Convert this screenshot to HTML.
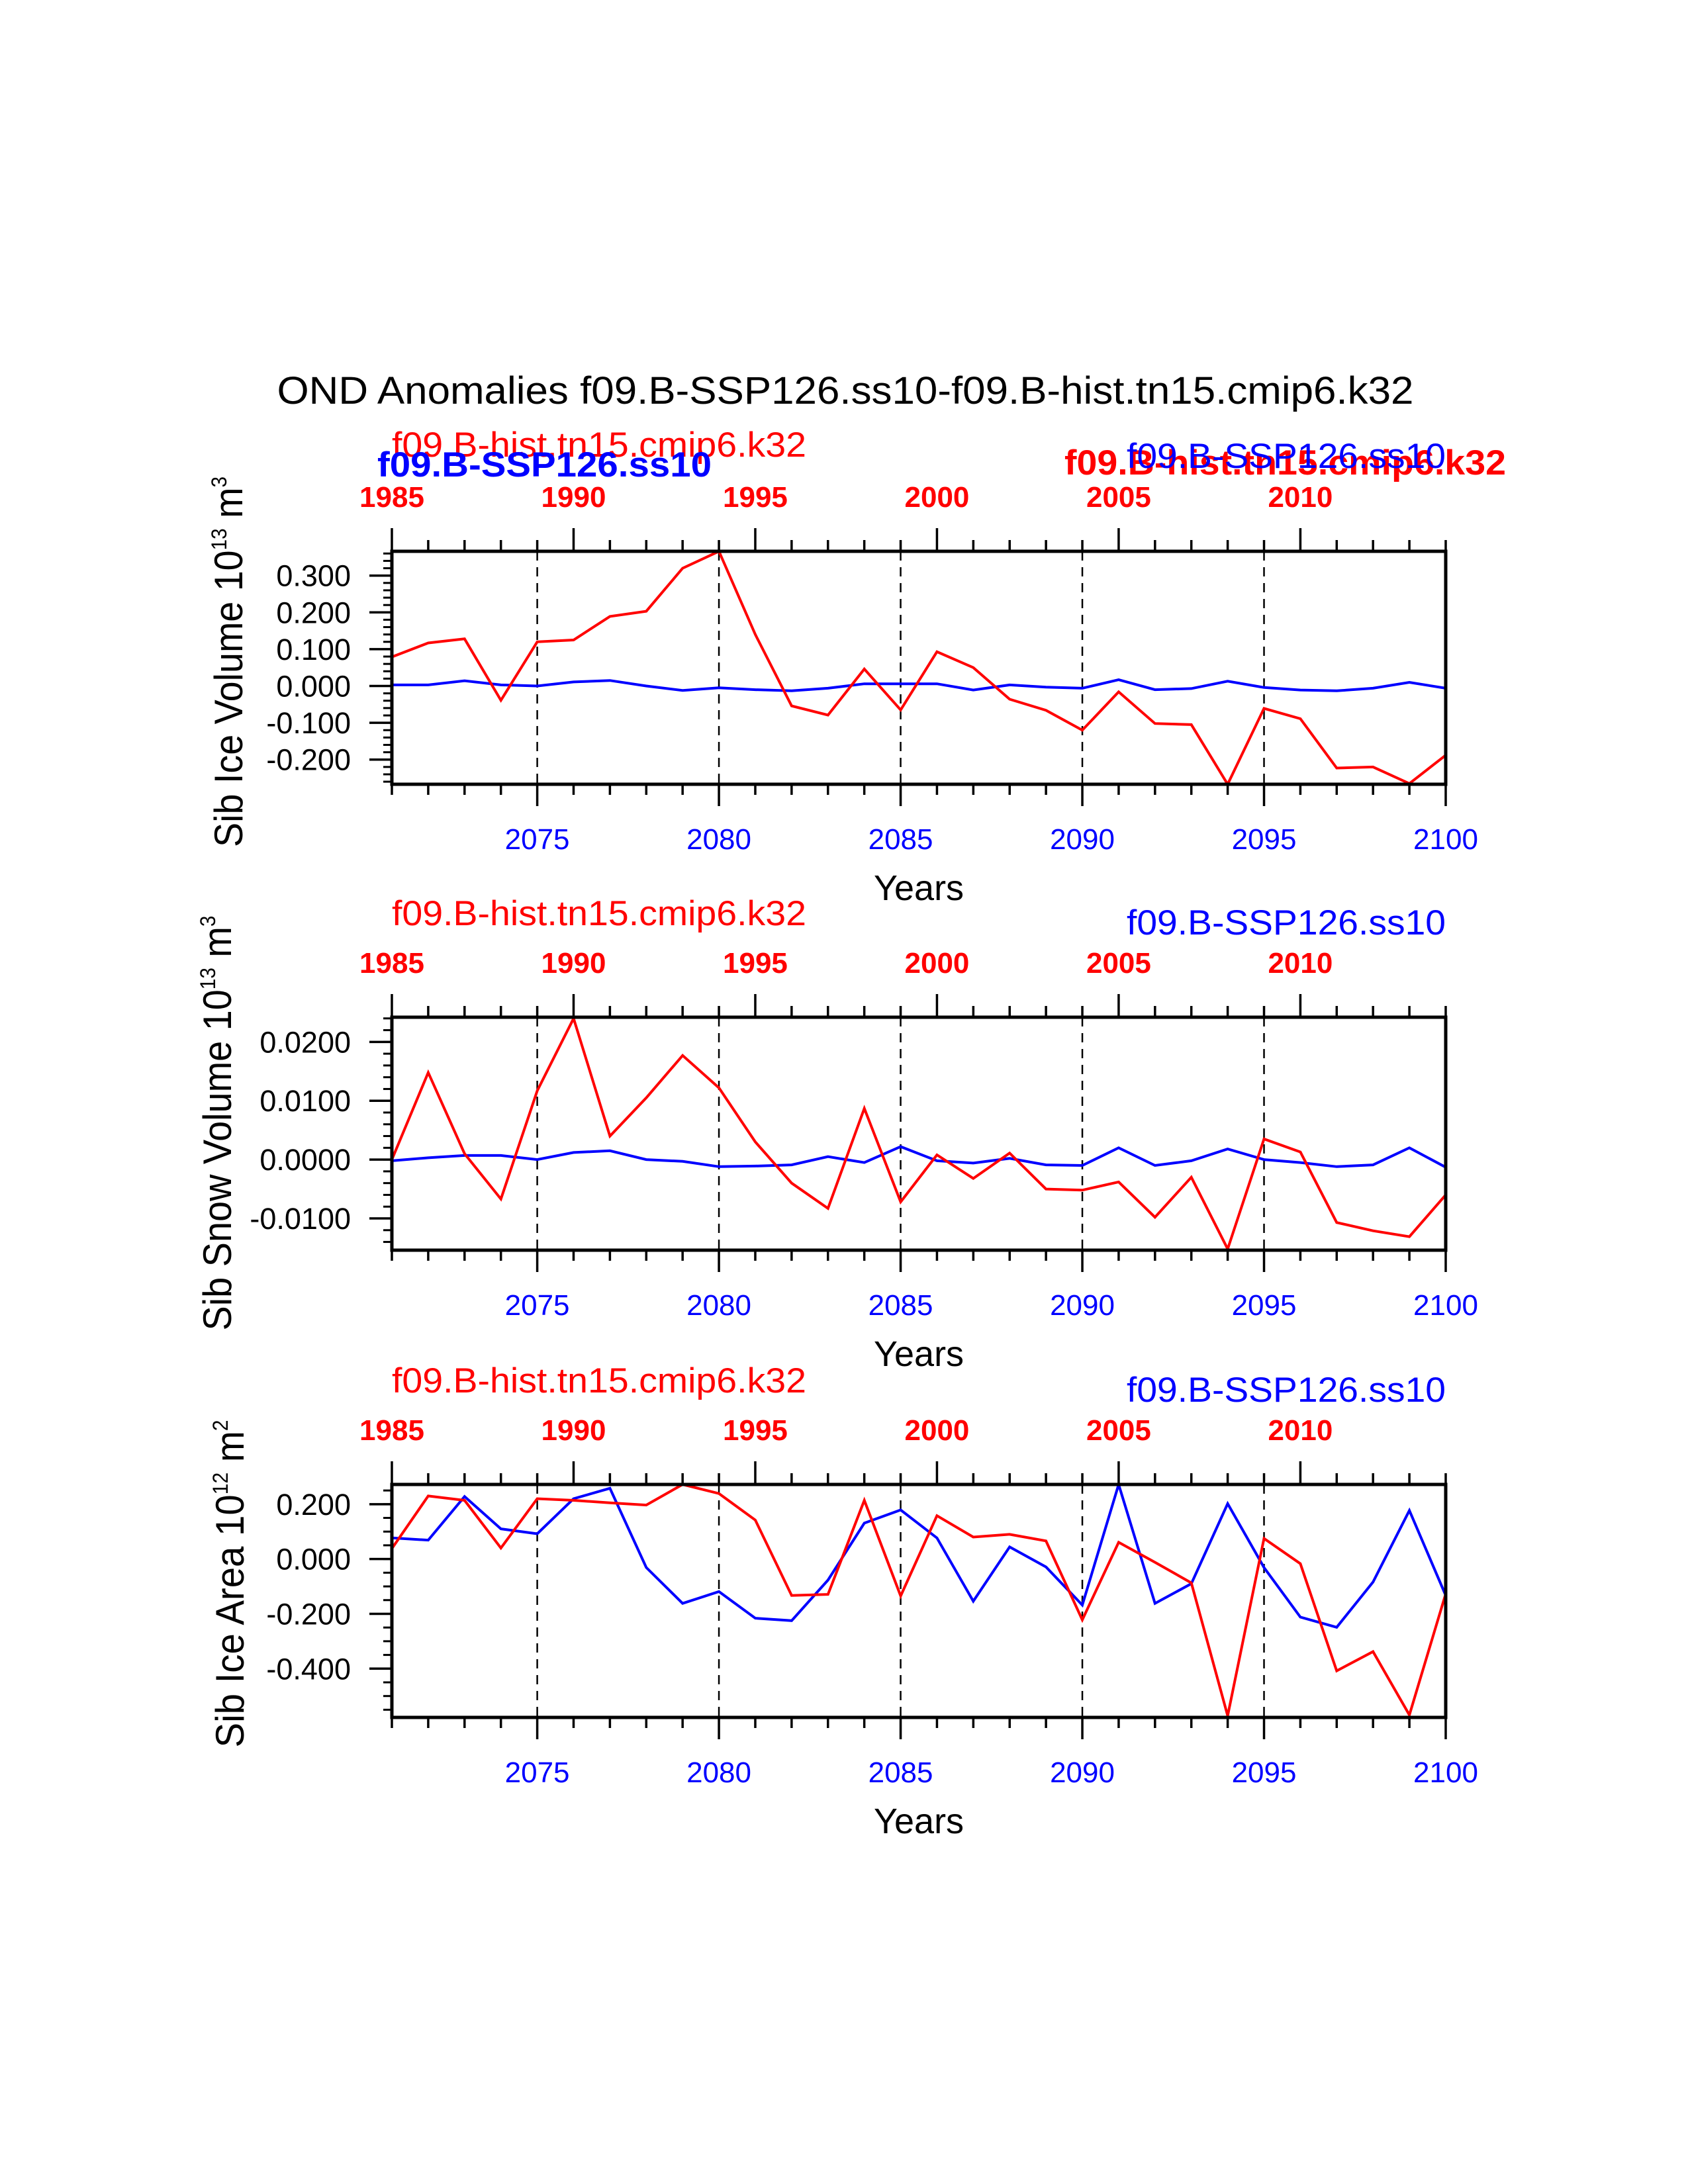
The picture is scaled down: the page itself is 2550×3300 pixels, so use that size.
<!DOCTYPE html>
<html><head><meta charset="utf-8"><style>
html,body{margin:0;padding:0;background:#fff;}
svg{display:block;font-family:"Liberation Sans",sans-serif;}
</style></head><body>
<svg id="chart" width="2550" height="3300" viewBox="0 0 2550 3300" xmlns="http://www.w3.org/2000/svg">
<rect width="2550" height="3300" fill="#fff"/>
<text x="1277" y="610" font-size="58" text-anchor="middle" textLength="1717" lengthAdjust="spacingAndGlyphs">OND Anomalies f09.B-SSP126.ss10-f09.B-hist.tn15.cmip6.k32</text>
<g id="panels"></g>
</svg>
<script>
const years = [];
for (let y = 2071; y <= 2100; y++) years.push(y);
const bottomTickLabels = ["2075","2080","2085","2090","2095","2100"];
const topTickLabels = ["1985","1990","1995","2000","2005","2010"];

const volRed = [0.079,0.117,0.128,-0.039,0.120,0.125,0.189,0.203,0.320,0.366,0.140,-0.054,-0.079,0.046,-0.065,0.093,0.050,-0.036,-0.066,-0.120,-0.016,-0.102,-0.105,-0.267,-0.061,-0.089,-0.223,-0.220,-0.265,-0.188];
const volBlue = [0.003,0.003,0.014,0.003,0.000,0.011,0.015,0.000,-0.012,-0.005,-0.010,-0.013,-0.006,0.006,0.006,0.006,-0.011,0.003,-0.003,-0.006,0.017,-0.010,-0.007,0.013,-0.004,-0.011,-0.013,-0.006,0.010,-0.006];
const snowRed = [0.0000,0.0148,0.0010,-0.0067,0.0117,0.0240,0.0040,0.0105,0.0177,0.0122,0.0030,-0.0040,-0.0083,0.0087,-0.0072,0.0008,-0.0032,0.0011,-0.0050,-0.0052,-0.0038,-0.0098,-0.0030,-0.0152,0.0035,0.0013,-0.0107,-0.0121,-0.0131,-0.0060];
const snowBlue = [-0.0002,0.0003,0.0007,0.0007,0.0000,0.0012,0.0015,0.0000,-0.0003,-0.0012,-0.0011,-0.0009,0.0005,-0.0005,0.0022,-0.0002,-0.0006,0.0002,-0.0009,-0.0010,0.0020,-0.0010,-0.0002,0.0018,0.0000,-0.0005,-0.0012,-0.0009,0.0020,-0.0013];
const areaRed = [0.038,0.230,0.214,0.040,0.220,0.214,0.205,0.197,0.272,0.239,0.142,-0.133,-0.129,0.214,-0.135,0.158,0.080,0.090,0.066,-0.222,0.061,-0.012,-0.087,-0.572,0.075,-0.017,-0.408,-0.338,-0.569,-0.127];
const areaBlue = [0.077,0.069,0.228,0.110,0.092,0.220,0.258,-0.031,-0.162,-0.119,-0.216,-0.225,-0.077,0.131,0.179,0.077,-0.154,0.044,-0.029,-0.168,0.272,-0.162,-0.090,0.202,-0.031,-0.212,-0.249,-0.084,0.177,-0.133];

const volTicks = [-0.2,-0.1,0,0.1,0.2,0.3];
const volTickLabels = ["-0.200","-0.100","0.000","0.100","0.200","0.300"];
const snowTicks = [-0.01,0,0.01,0.02];
const snowTickLabels = ["-0.0100","0.0000","0.0100","0.0200"];
const areaTicks = [-0.4,-0.2,0,0.2];
const areaTickLabels = ["-0.400","-0.200","0.000","0.200"];

const NS = "http://www.w3.org/2000/svg";
const root = document.getElementById('panels');
function mk(tag, attrs, parent, text) {
  const e = document.createElementNS(NS, tag);
  for (const k in attrs) e.setAttribute(k, attrs[k]);
  if (text !== undefined) e.textContent = text;
  (parent || root).appendChild(e);
  return e;
}
const X0 = 592, X1 = 2184;
function xs(yr) { return X0 + (yr - 2071) / 29 * (X1 - X0); }

const panels = [
  {name:'ice-volume', top:833, vmin:-0.267, vmax:0.366, red:volRed, blue:volBlue, ticks:volTicks, labels:volTickLabels, minor:0.02, mmin:-0.26, mmax:0.36,
   ytitle:'Sib Ice Volume 10', sup1:'13', unit:' m', sup2:'3', ycx:344, ycy:1000, ylen:560, overlap:true},
  {name:'snow-volume', top:1537, vmin:-0.0154, vmax:0.0242, red:snowRed, blue:snowBlue, ticks:snowTicks, labels:snowTickLabels, minor:0.002, mmin:-0.014, mmax:0.024,
   ytitle:'Sib Snow Volume 10', sup1:'13', unit:' m', sup2:'3', ycx:327, ycy:1697, ylen:627, overlap:false},
  {name:'ice-area', top:2243, vmin:-0.578, vmax:0.272, red:areaRed, blue:areaBlue, ticks:areaTicks, labels:areaTickLabels, minor:0.05, mmin:-0.55, mmax:0.25,
   ytitle:'Sib Ice Area 10', sup1:'12', unit:' m', sup2:'2', ycx:346, ycy:2393, ylen:495, overlap:false}
];
const H = 352;

panels.forEach((p, pi) => {
  const g = mk('g', {});
  
  
  const top = p.top, bot = top + H;
  const ys = v => bot - (v - p.vmin) / (p.vmax - p.vmin) * H;
  const off = top - 833;

  [2075,2080,2085,2090,2095].forEach(yr => {
    const l = mk('line', {x1:xs(yr), x2:xs(yr), y1:top, y2:bot, stroke:'#000', 'stroke-width':2.5, 'stroke-dasharray':'14,10'}, g);
    
    
  });

  [['blue', p.blue, '#0000ff'], ['red', p.red, '#ff0000']].forEach(([nm, arr, col]) => {
    const pts = arr.map((v, i) => xs(years[i]).toFixed(1) + ',' + ys(v).toFixed(1)).join(' ');
    const pl = mk('polyline', {points:pts, fill:'none', stroke:col, 'stroke-width':4, 'stroke-linejoin':'miter'}, g);
    
    
  });

  const fr = mk('rect', {x:X0, y:top, width:X1-X0, height:H, fill:'none', stroke:'#000', 'stroke-width':5}, g);
  
  

  years.forEach(yr => {
    const x = xs(yr);
    const bmaj = (yr % 5 === 0);
    mk('line', {x1:x, x2:x, y1:bot, y2:bot + (bmaj ? 33 : 16), stroke:'#000', 'stroke-width':3.5}, g);
    const tmaj = ((yr - 2071) % 5 === 0);
    mk('line', {x1:x, x2:x, y1:top, y2:top - (tmaj ? 35 : 17), stroke:'#000', 'stroke-width':3.5}, g);
  });
  bottomTickLabels.forEach(lbl => {
    const t = mk('text', {x:xs(+lbl), y:1283 + off, 'font-size':44, fill:'#0000ff', 'text-anchor':'middle'}, g, lbl);
    
    
  });
  topTickLabels.forEach(lbl => {
    const t = mk('text', {x:xs(+lbl + 86), y:766 + off, 'font-size':44, 'font-weight':'bold', fill:'#ff0000', 'text-anchor':'middle'}, g, lbl);
    
    
  });

  for (let v = p.mmin; v <= p.mmax + 1e-9; v += p.minor) {
    const y = ys(v);
    if (y < top - 1 || y > bot + 1) continue;
    mk('line', {x1:X0, x2:X0 - 13, y1:y, y2:y, stroke:'#000', 'stroke-width':3}, g);
  }
  p.ticks.forEach((v, i) => {
    const y = ys(v);
    mk('line', {x1:X0, x2:X0 - 34, y1:y, y2:y, stroke:'#000', 'stroke-width':3.5}, g);
    const t = mk('text', {x:530, y:y + 16, 'font-size':45, 'text-anchor':'end'}, g, p.labels[i]);
    
    
  });

  const yt = mk('text', {x:0, y:0, 'font-size':60, 'text-anchor':'middle', transform:`translate(${p.ycx + 22},${p.ycy}) rotate(-90)`, textLength:p.ylen, lengthAdjust:'spacingAndGlyphs'}, g);
  
  
  const s0 = document.createElementNS(NS, 'tspan'); s0.textContent = p.ytitle; yt.appendChild(s0);
  const s1 = document.createElementNS(NS, 'tspan'); s1.setAttribute('dy', '-24'); s1.setAttribute('font-size', '32'); s1.textContent = p.sup1; yt.appendChild(s1);
  const s2 = document.createElementNS(NS, 'tspan'); s2.setAttribute('dy', '24'); s2.textContent = p.unit; yt.appendChild(s2);
  const s3 = document.createElementNS(NS, 'tspan'); s3.setAttribute('dy', '-24'); s3.setAttribute('font-size', '32'); s3.textContent = p.sup2; yt.appendChild(s3);

  const xt = mk('text', {x:1388, y:1360 + off, 'font-size':54, 'text-anchor':'middle'}, g, 'Years');
  
  

  if (p.overlap) {
    let t;
    t = mk('text', {x:592, y:690, 'font-size':53, fill:'#ff0000', textLength:626, lengthAdjust:'spacingAndGlyphs'}, g, 'f09.B-hist.tn15.cmip6.k32');
     
    t = mk('text', {x:570, y:720, 'font-size':53, 'font-weight':'bold', fill:'#0000ff', textLength:505, lengthAdjust:'spacingAndGlyphs'}, g, 'f09.B-SSP126.ss10');
     
    t = mk('text', {x:1608, y:717, 'font-size':53, 'font-weight':'bold', fill:'#ff0000', textLength:667, lengthAdjust:'spacingAndGlyphs'}, g, 'f09.B-hist.tn15.cmip6.k32');
     
    t = mk('text', {x:1702, y:707, 'font-size':53, fill:'#0000ff', textLength:482, lengthAdjust:'spacingAndGlyphs'}, g, 'f09.B-SSP126.ss10');
     
  } else {
    const lo = off - 704;
    let t = mk('text', {x:592, y:1398 + lo, 'font-size':53, fill:'#ff0000', textLength:626, lengthAdjust:'spacingAndGlyphs'}, g, 'f09.B-hist.tn15.cmip6.k32');
     
    t = mk('text', {x:1702, y:1412 + lo, 'font-size':53, fill:'#0000ff', textLength:482, lengthAdjust:'spacingAndGlyphs'}, g, 'f09.B-SSP126.ss10');
     
  }
});
</script>
</body></html>
